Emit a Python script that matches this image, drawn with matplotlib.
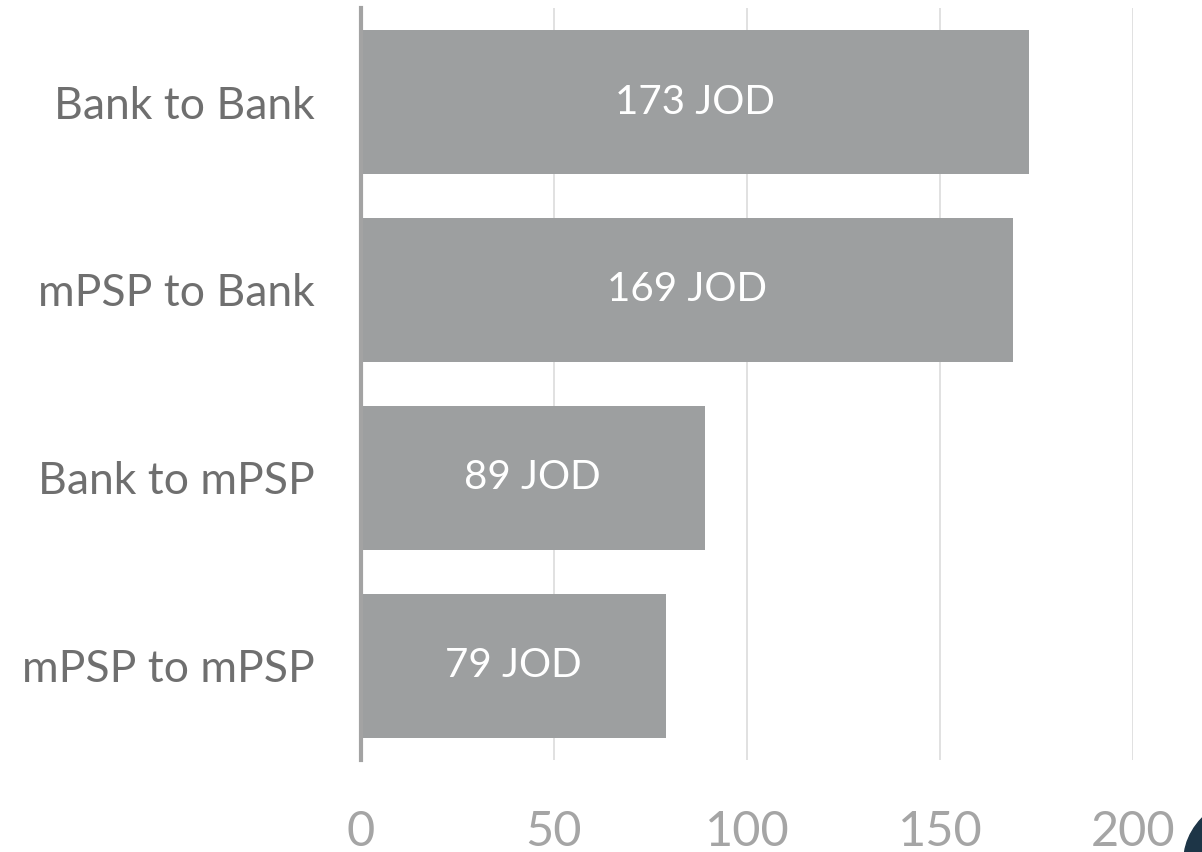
import matplotlib
matplotlib.use("Agg")
import matplotlib.pyplot as plt
from matplotlib.patches import Circle

categories = ["Bank to Bank", "mPSP to Bank", "Bank to mPSP", "mPSP to mPSP"]
values = [173, 169, 89, 79]
xticks = [0, 50, 100, 150, 200]

plt.rcParams['font.family'] = ['Lato', 'DejaVu Sans']

fig = plt.figure(figsize=(12.02, 8.52), dpi=100)
ax = fig.add_axes([0.3003, 0.108, 0.6423, 0.8826])

bar_color = "#9d9fa0"
ypos = list(range(len(categories)))
bars = ax.barh(ypos, values, height=0.77, color=bar_color, zorder=3)

for b, v in zip(bars, values):
    ax.text(v / 2, b.get_y() + b.get_height() / 2, f"{v} JOD",
            ha="center", va="center", color="white", fontsize=29, zorder=4)

ax.set_xlim(0, 200)
ax.set_ylim(len(categories) - 0.5, -0.5)
ax.set_yticks(ypos)
ax.set_yticklabels(categories)
ax.set_xticks(xticks)

ax.tick_params(axis="y", length=0, pad=33, labelsize=32, labelcolor="#6f6f6f")
ax.tick_params(axis="x", length=0, pad=36, labelsize=35, labelcolor="#a5a5a5")

ax.grid(axis="x", color="#dcdcdc", linewidth=1.2, zorder=0)
for s in ["top", "right", "bottom"]:
    ax.spines[s].set_visible(False)
ax.spines["left"].set_color("#a3a3a3")
ax.spines["left"].set_linewidth(3)
ax.spines["left"].set_zorder(5)

# dark decoration in the bottom right corner
fig.add_artist(Circle((1290 / 1202, 1 - 860 / 852), 106 / 1202,
                      transform=fig.transFigure, color="#1d3547",
                      clip_on=False))

fig.savefig("out.png", dpi=100)
